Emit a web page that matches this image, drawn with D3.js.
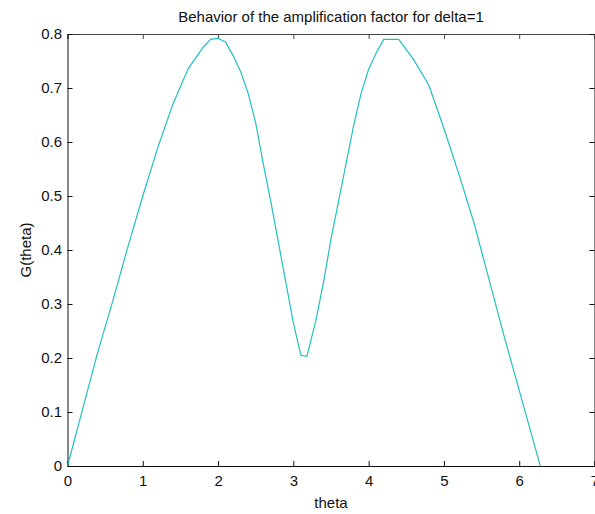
<!doctype HTML>
<html>
<head>
    <style>
        body { margin: 0; background: #fff; }
        svg text { font-family: Arial, "Liberation Sans", sans-serif; fill: #111; }
        .axis path, .axis line { stroke: #111; }
    </style>
    <script src="https://d3js.org/d3.v7.min.js"></script>
</head>
<body>
<script>
    // values
    var theta = [0, 0.2, 0.4, 0.6, 0.8, 1.0, 1.2, 1.4, 1.6, 1.8, 1.9, 2.0, 2.1, 2.2, 2.3, 2.4, 2.5, 2.6, 2.7,
        2.8, 2.9, 3.0, 3.1, 3.18, 3.3, 3.4, 3.5, 3.6, 3.7, 3.8, 3.9, 4.0, 4.1, 4.2, 4.4, 4.6, 4.8, 5.0,
        5.2, 5.4, 5.6, 5.8, 6.0, 6.2, 6.28];
    var G = [0, 0.105, 0.21, 0.305, 0.405, 0.5, 0.59, 0.67, 0.735, 0.775, 0.79, 0.792, 0.785, 0.76, 0.73, 0.69, 0.635, 0.56, 0.49,
        0.415, 0.34, 0.265, 0.205, 0.203, 0.27, 0.34, 0.42, 0.49, 0.56, 0.63, 0.69, 0.735, 0.765, 0.79, 0.79, 0.752, 0.705, 0.625,
        0.54, 0.45, 0.345, 0.24, 0.14, 0.04, 0];
    var xTicks = [0, 1, 2, 3, 4, 5, 6, 7];
    var yTicks = [0, 0.1, 0.2, 0.3, 0.4, 0.5, 0.6, 0.7, 0.8];

    var canvasWidth = 595;
    var canvasHeight = 514;
    var plotLeft = 67.5, plotRight = 594.5, plotTop = 34, plotBottom = 466;

    var svg = d3.select("body").append("svg")
        .attr("width", canvasWidth)
        .attr("height", canvasHeight);

    var x = d3.scaleLinear().domain([0, 7]).range([plotLeft, plotRight]);
    var y = d3.scaleLinear().domain([0, 0.8]).range([plotBottom, plotTop]);

    var data = theta.map(function(t, i) { return {t: t, g: G[i]}; });

    // box (top and right sides, ticks inward)
    svg.append("g").attr("class", "axis")
        .attr("transform", "translate(0," + plotTop + ")")
        .call(d3.axisTop(x).tickValues(xTicks).tickSize(-5).tickFormat(""))
        .selectAll("path, line").style("stroke", "#444");
    svg.append("g").attr("class", "axis")
        .attr("transform", "translate(" + plotRight + ",0)")
        .call(d3.axisRight(y).tickValues(yTicks).tickSize(-5).tickFormat(""));

    // x axis
    var xAxis = svg.append("g").attr("class", "axis")
        .attr("transform", "translate(0," + plotBottom + ")")
        .call(d3.axisBottom(x).tickValues(xTicks).tickSize(-5).tickPadding(9).tickFormat(d3.format("d")));
    xAxis.selectAll("text").attr("font-size", "15px").style("font-family", "Arial, 'Liberation Sans', sans-serif").attr("fill", "#111");

    // y axis
    var yAxis = svg.append("g").attr("class", "axis")
        .attr("transform", "translate(" + plotLeft + ",0)")
        .call(d3.axisLeft(y).tickValues(yTicks).tickSize(-5).tickPadding(5.5)
            .tickFormat(function(d) { return d === 0 ? "0" : d3.format(".1f")(d); }));
    yAxis.selectAll("text").attr("font-size", "15px").style("font-family", "Arial, 'Liberation Sans', sans-serif").attr("fill", "#111");

    // the curve
    var line = d3.line()
        .x(function(d) { return x(d.t); })
        .y(function(d) { return y(d.g); });
    svg.append("path")
        .datum(data)
        .attr("d", line)
        .attr("fill", "none")
        .attr("stroke", "#22c0c0")
        .attr("stroke-width", 1.2);

    // title and labels
    svg.append("text")
        .attr("x", (plotLeft + plotRight) / 2)
        .attr("y", 22)
        .attr("text-anchor", "middle")
        .attr("font-size", "15px")
        .text("Behavior of the amplification factor for delta=1");

    svg.append("text")
        .attr("x", (plotLeft + plotRight) / 2)
        .attr("y", 508)
        .attr("text-anchor", "middle")
        .attr("font-size", "15px")
        .text("theta");

    svg.append("text")
        .attr("transform", "translate(31," + (plotTop + plotBottom) / 2 + ") rotate(-90)")
        .attr("text-anchor", "middle")
        .attr("font-size", "15px")
        .text("G(theta)");
</script>
</body>
</html>
